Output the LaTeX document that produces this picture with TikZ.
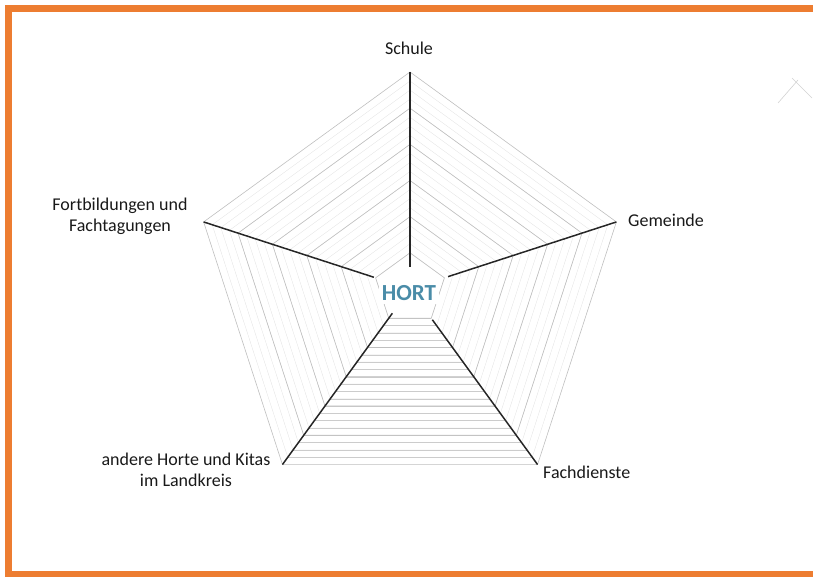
\documentclass[tikz,border=0pt]{standalone}
\usepackage{fontspec}
\setmainfont{Carlito}
\definecolor{hortorange}{RGB}{237,125,49}
\definecolor{hortblue}{RGB}{74,140,168}
\tikzset{
  spoke/.style={line width=1.5pt,black!85},
  ring/.style={gray!50,line width=0.6pt},
  fine/.style={gray!22,line width=0.35pt},
  finebottom/.style={gray!40,line width=0.4pt},
  lbl/.style={font=\fontsize{18}{21}\selectfont,text=black!90,inner sep=0pt},
}
\begin{document}
\begin{tikzpicture}[x=1pt,y=1pt]
  \useasboundingbox (0,0) rectangle (813,576);
  \clip (0,0) rectangle (813,576);
  % orange frame, open to the right
  \draw[hortorange,line width=7pt] (813,567) -- (8.5,567) -- (8.5,2) -- (813,2);
  % scan marks top right
  \draw[gray!35,line width=0.6pt] (778,473) -- (798,496) (792,498) -- (812,478);

  \begin{scope}[shift={(410,287)}]
    \foreach \k in {4,...,23} {
      \pgfmathsetmacro\r{\k*217/24}
      \draw[fine] (90:\r) -- (18:\r) -- (-54:\r) -- (-126:\r) -- (162:\r) -- cycle;
      \draw[finebottom] (-126:\r) -- (-54:\r);
    }
    \foreach \k in {1,...,6} {
      \pgfmathsetmacro\r{\k*217/6}
      \draw[ring] (90:\r) -- (18:\r) -- (-54:\r) -- (-126:\r) -- (162:\r) -- cycle;
    }
    \coordinate (schuleV) at (90:217);
    \coordinate (gemeindeV) at (18:217);
    \coordinate (fachV) at (-54:217);
    \coordinate (andereV) at (-126:217);
    \coordinate (fortV) at (162:217);
    \coordinate (schuleI) at (90:22);
    \coordinate (gemeindeI) at (18:40);
    \coordinate (fachI) at (-54:38);
    \coordinate (andereI) at (-126:30);
    \coordinate (fortI) at (162:38);
  \end{scope}

  \path[spoke] (schuleI) edge (schuleV)
    (gemeindeI) edge (gemeindeV)
    (fachI) edge (fachV)
    (andereI) edge (andereV)
    (fortI) edge (fortV);

  \node[fill=white,inner sep=3pt,text=hortblue,font=\bfseries\fontsize{23}{23}\selectfont] (hort) at (409,283) {HORT};

  \node[lbl] (schule) at (409,528) {Schule};
  \node[lbl,anchor=west] (gemeinde) at (628,356) {Gemeinde};
  \node[lbl,align=center] (fort) at (120,360) {Fortbildungen und\\Fachtagungen};
  \node[lbl,align=center] (andere) at (186,106) {andere Horte und Kitas\\im Landkreis};
  \node[lbl,anchor=west] (fach) at (543,104) {Fachdienste};
\end{tikzpicture}
\end{document}
